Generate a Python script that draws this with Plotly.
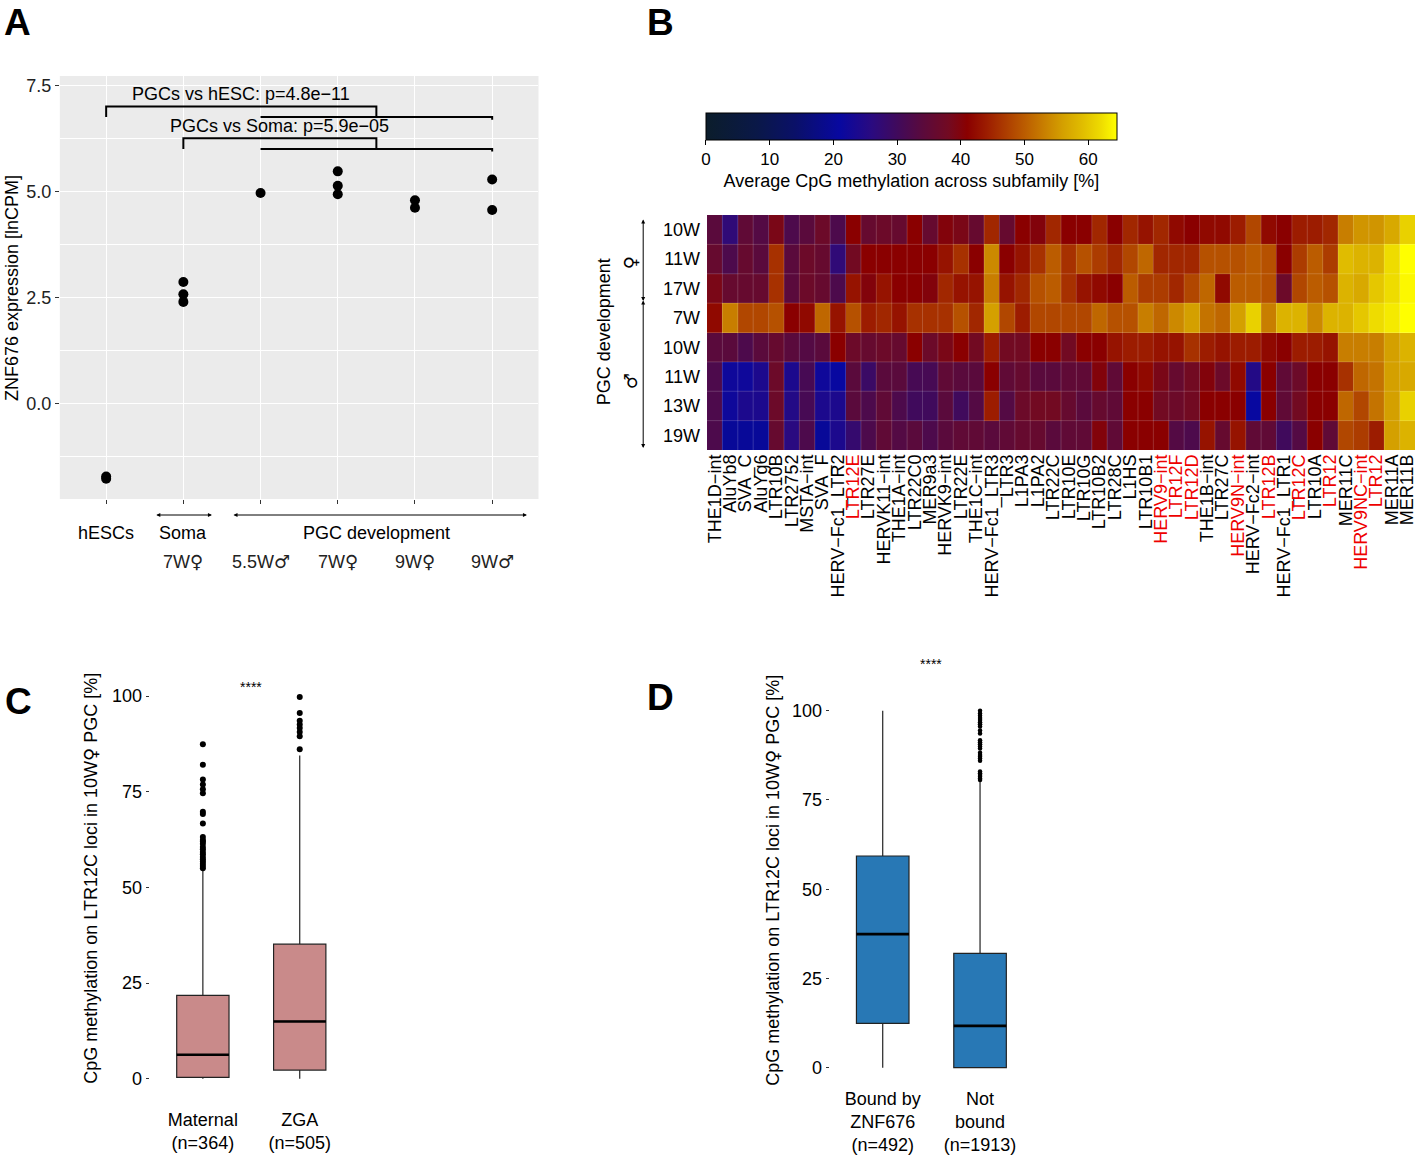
import plotly.graph_objects as go

W, H = 1424, 1155
FONT = "Liberation Sans, Arial, Helvetica, sans-serif"
SYM = '<span style="font-family:DejaVu Sans">{}</span>'


def px(x):
    return x / W


def py(y):
    return 1 - y / H


def sym(t):
    # the venus / mars glyphs look right in DejaVu Sans
    return t.replace("♀", SYM.format("♀")).replace("♂", SYM.format("♂"))


# ---------------- panel A: ZNF676 expression ----------------
hesc = [-1.73, -1.78]
soma_7wf = [2.86, 2.57, 2.39]
pgc_55wm = [4.96]
pgc_7wf = [5.47, 5.13, 4.93]
pgc_9wf = [4.79, 4.61]
pgc_9wm = [5.28, 4.56]
a_samples = [hesc, soma_7wf, pgc_55wm, pgc_7wf, pgc_9wf, pgc_9wm]
a_yticks = [0, 2.5, 5, 7.5]
a_row1 = ["hESCs", "Soma", "PGC development"]
a_row1_pos = [1, 2, 4.5]
a_row2 = ["7W♀", "5.5W♂", "7W♀", "9W♀", "9W♂"]
a_row2_pos = [2, 3, 4, 5, 6]
# (label, reference group, bracket height)
comparisons = [("PGCs vs hESC: p=4.8e−11", 1, 7.0),
               ("PGCs vs Soma: p=5.9e−05", 2, 6.25)]
pgc_span = [3, 6]

# ---------------- panel B: heatmap ----------------
subfamilies = ["THE1D−int", "AluYb8", "SVA_C", "AluYg6", "LTR10B", "LTR2752", "MSTA−int",
               "SVA_F", "HERV−Fc1_LTR2", "LTR12E", "LTR27E", "HERVK11−int", "THE1A−int",
               "LTR22C0", "MER9a3", "HERVK9−int", "LTR22E", "THE1C−int", "HERV−Fc1_LTR3",
               "LTR3", "L1PA3", "L1PA2", "LTR22C", "LTR10E", "LTR10G", "LTR10B2", "LTR28C",
               "L1HS", "LTR10B1", "HERV9−int", "LTR12F", "LTR12D", "THE1B−int", "LTR27C",
               "HERV9N−int", "HERV−Fc2−int", "LTR12B", "HERV−Fc1_LTR1", "LTR12C", "LTR10A",
               "LTR12", "MER11C", "HERV9NC−int", "LTR12", "MER11A", "MER11B"]
highlighted = ["LTR12E", "HERV9−int", "LTR12F", "LTR12D", "HERV9N−int", "LTR12B",
               "LTR12C", "LTR12", "HERV9NC−int"]
stages = ["10W", "11W", "17W", "7W", "10W", "11W", "13W", "19W"]

f_10w = [34, 27, 35, 33, 39, 32, 34, 37, 32, 41, 36, 37, 36, 41, 36, 40, 39, 36, 45, 36, 41, 40, 45,
         41, 41, 45, 41, 45, 43, 45, 42, 41, 42, 42, 44, 48, 42, 41, 44, 44, 45, 53, 55, 55, 57, 61]
f_11w = [36, 32, 36, 34, 46, 34, 37, 36, 27, 38, 41, 41, 41, 41, 41, 43, 46, 41, 54, 41, 43, 46, 50,
         46, 49, 47, 45, 48, 51, 45, 45, 45, 49, 49, 49, 50, 49, 41, 47, 50, 47, 59, 58, 58, 62, 65]
f_17w = [39, 36, 36, 36, 46, 34, 37, 36, 32, 43, 40, 43, 41, 41, 40, 45, 43, 43, 53, 43, 45, 49, 50,
         46, 43, 42, 41, 50, 47, 47, 45, 48, 51, 42, 50, 50, 49, 37, 48, 50, 49, 58, 57, 60, 62, 64]
m_7w = [42, 53, 48, 48, 49, 41, 42, 51, 43, 49, 44, 45, 43, 46, 46, 46, 49, 45, 56, 48, 44, 48, 48,
        48, 48, 51, 49, 49, 53, 51, 54, 56, 52, 51, 56, 61, 53, 58, 58, 54, 58, 58, 60, 62, 63, 65]
m_10w = [34, 34, 32, 34, 36, 34, 33, 34, 41, 37, 36, 37, 36, 41, 37, 39, 41, 38, 44, 38, 38, 41, 41,
         38, 41, 41, 43, 44, 44, 43, 43, 46, 44, 43, 44, 44, 42, 41, 44, 44, 43, 53, 53, 53, 56, 58]
m_11w = [32, 22, 22, 24, 37, 24, 31, 22, 21, 34, 29, 34, 34, 31, 31, 35, 34, 34, 41, 35, 36, 34, 34,
         35, 35, 40, 35, 41, 42, 39, 36, 38, 40, 37, 42, 25, 41, 35, 37, 41, 41, 46, 51, 52, 56, 57]
m_13w = [32, 22, 24, 24, 37, 25, 31, 24, 24, 34, 32, 35, 32, 30, 30, 34, 30, 33, 44, 33, 37, 38, 38,
         36, 34, 36, 35, 41, 41, 38, 37, 38, 41, 41, 41, 21, 41, 35, 38, 41, 41, 51, 48, 52, 56, 61]
m_19w = [32, 20, 20, 20, 36, 26, 32, 20, 24, 28, 32, 35, 33, 34, 32, 34, 35, 35, 34, 35, 36, 36, 34,
         35, 35, 40, 35, 41, 41, 41, 33, 32, 43, 36, 43, 35, 35, 30, 33, 41, 35, 48, 47, 44, 56, 58]
cbar_ticks = [0, 10, 20, 30, 40, 50, 60]
cbar_max = 64.5

# ---------------- panels C / D: boxplots ----------------
c_labels = ["Maternal<br>(n=364)", "ZGA<br>(n=505)"]
c_q1 = [0.4, 2.3]
c_median = [6.3, 15.0]
c_q3 = [21.8, 35.2]
c_low = [0.0, 0.0]
c_high = [54.5, 84.5]
c_out_maternal = [87.4, 82.1, 78.2, 76.9, 75.7, 74.6, 69.8, 69.2, 66.7, 63.2, 62.4, 62.0, 61.4,
                  60.6, 60.0, 59.3, 58.7, 58.0, 57.4, 56.8, 56.2, 55.6, 55.0]
c_out_zga = [86.1, 89.5, 90.6, 91.7, 92.6, 93.6, 95.6, 99.8]

d_labels = ["Bound by<br>ZNF676<br>(n=492)", "Not<br>bound<br>(n=1913)"]
d_q1 = [12.4, 0.0]
d_median = [37.4, 11.7]
d_q3 = [59.3, 32.0]
d_low = [0.0, 0.0]
d_high = [100.0, 80.4]
d_out_bound = []
d_out_not = [80.6, 81.0, 81.5, 82.0, 82.5, 83.0, 86.0, 86.6, 87.1, 87.6, 88.2, 89.4, 90.0, 90.6,
             91.2, 91.7, 93.6, 94.5, 95.6, 96.2, 96.8, 97.4, 98.0, 98.6, 99.2, 100.0]
box_ticks = [0, 25, 50, 75, 100]
box_title = "CpG methylation on LTR12C loci in 10W♀ PGC [%]"

fig = go.Figure()

# ---- A ----
for i, vals in enumerate(a_samples):
    fig.add_trace(go.Scatter(x=[i + 1] * len(vals), y=vals, mode="markers",
                             marker=dict(color="black", size=10),
                             xaxis="x", yaxis="y", showlegend=False))

# ---- B ----
z = [f_10w, f_11w, f_17w, m_7w, m_10w, m_11w, m_13w, m_19w]
stops = [(0, "#0b1d2b"), (8, "#0a1848"), (14, "#0a1068"), (21, "#0808a0"), (26, "#2a0a80"),
         (30, "#400a5c"), (34, "#5a0a3c"), (38, "#720a22"), (41, "#8a0000"), (44, "#9c1c00"),
         (47, "#ac3c00"), (50, "#bb5c00"), (53, "#c87e00"), (56, "#d4a000"), (59, "#e0bc00"),
         (62, "#eedc00"), (64.5, "#ffff00")]
colorscale = [[v / cbar_max, c] for v, c in stops]
fig.add_trace(go.Heatmap(
    z=z, x=list(range(len(subfamilies))), y=list(range(len(stages))),
    zmin=0, zmax=cbar_max, colorscale=colorscale, xaxis="x2", yaxis="y2",
    colorbar=dict(orientation="h", x=px(912), xanchor="center", len=412 / W, lenmode="fraction",
                  y=py(113), yanchor="top", thickness=27, thicknessmode="pixels",
                  xpad=0, ypad=0, outlinewidth=1, outlinecolor="black",
                  tickvals=cbar_ticks, ticks="outside", ticklen=5, tickcolor="black",
                  tickfont=dict(size=17, color="black", family=FONT),
                  title=dict(text="Average CpG methylation across subfamily [%]", side="bottom",
                             font=dict(size=18, color="black", family=FONT))),
    hoverinfo="z"))

# ---- C ----
fig.add_trace(go.Box(x=[1, 2], q1=c_q1, median=c_median, q3=c_q3, lowerfence=c_low,
                     upperfence=c_high, width=0.54, whiskerwidth=0, fillcolor="#c98a8a",
                     line=dict(color="#222222", width=1.2), boxpoints=False,
                     xaxis="x3", yaxis="y3", showlegend=False))
fig.add_trace(go.Scatter(x=[1] * len(c_out_maternal) + [2] * len(c_out_zga),
                         y=c_out_maternal + c_out_zga, mode="markers",
                         marker=dict(color="black", size=6), xaxis="x3", yaxis="y3",
                         showlegend=False))
mx, my = [], []
for i, m in enumerate(c_median):
    mx += [i + 1 - 0.27, i + 1 + 0.27, None]
    my += [m, m, None]
fig.add_trace(go.Scatter(x=mx, y=my, mode="lines", line=dict(color="black", width=2.6),
                         xaxis="x3", yaxis="y3", showlegend=False))

# ---- D ----
fig.add_trace(go.Box(x=[1, 2], q1=d_q1, median=d_median, q3=d_q3, lowerfence=d_low,
                     upperfence=d_high, width=0.54, whiskerwidth=0, fillcolor="#2878b5",
                     line=dict(color="#222222", width=1.2), boxpoints=False,
                     xaxis="x4", yaxis="y4", showlegend=False))
fig.add_trace(go.Scatter(x=[1] * len(d_out_bound) + [2] * len(d_out_not),
                         y=d_out_bound + d_out_not, mode="markers",
                         marker=dict(color="black", size=4.5), xaxis="x4", yaxis="y4",
                         showlegend=False))
mx, my = [], []
for i, m in enumerate(d_median):
    mx += [i + 1 - 0.27, i + 1 + 0.27, None]
    my += [m, m, None]
fig.add_trace(go.Scatter(x=mx, y=my, mode="lines", line=dict(color="black", width=2.6),
                         xaxis="x4", yaxis="y4", showlegend=False))

# ---------------- shapes ----------------
shapes = [dict(type="rect", xref="x domain", yref="y domain", x0=0, x1=1, y0=0, y1=1,
               fillcolor="#ebebeb", line=dict(width=0), layer="below")]
pgc_mid = sum(pgc_span) / 2
drop = 0.25
annotations = []
for label, ref, yb in comparisons:
    shapes.append(dict(type="path", xref="x", yref="y",
                       path=f"M {ref},{yb - drop} L {ref},{yb} L {pgc_mid},{yb} L {pgc_mid},{yb - drop}",
                       line=dict(color="black", width=2)))
    shapes.append(dict(type="path", xref="x", yref="y",
                       path=f"M {pgc_span[0]},{yb - drop} L {pgc_span[1]},{yb - drop} "
                            f"L {pgc_span[1]},{yb - drop - 0.06}",
                       line=dict(color="black", width=2)))
    annotations.append(dict(x=(ref + pgc_mid) / 2, y=yb + 0.29, xref="x", yref="y", text=label,
                            xanchor="center", yanchor="middle",
                            showarrow=False, font=dict(size=18, color="black")))

for i in range(len(subfamilies) - 1):
    shapes.append(dict(type="line", xref="x2", yref="y2", x0=i + 0.5, x1=i + 0.5, y0=-0.5,
                       y1=len(stages) - 0.5, line=dict(color="rgba(255,255,255,0.18)", width=1)))
for j in range(len(stages) - 1):
    shapes.append(dict(type="line", xref="x2", yref="y2", x0=-0.5, x1=len(subfamilies) - 0.5,
                       y0=j + 0.5, y1=j + 0.5, line=dict(color="rgba(255,255,255,0.18)", width=1)))


# ---------------- annotations ----------------
def note(x, y, text, size=18, angle=0, xref="paper", color="black"):
    return dict(x=x, y=y, xref=xref, yref="paper", text=text, textangle=angle,
                xanchor="center", yanchor="middle", showarrow=False,
                font=dict(size=size, color=color))


for t, xx in zip(a_row1, a_row1_pos):
    annotations.append(note(xx, py(533), t, xref="x"))
for t, xx in zip(a_row2, a_row2_pos):
    annotations.append(note(xx, py(561), sym(t), xref="x", color="#222222"))
# group arrows under panel A
for x0, x1 in [(1.63, 2.37), (2.63, 6.45)]:
    annotations.append(dict(x=x1, y=py(515), xref="x", yref="paper", ax=x0, ay=0,
                            axref="x", ayref="pixel", text="", showarrow=True,
                            arrowhead=2, arrowside="end+start", arrowsize=0.8, arrowwidth=1,
                            arrowcolor="black"))
# panel B side arrows
for y0, y1 in [(218, 301), (299, 448)]:
    annotations.append(dict(x=px(643), y=py(y1), xref="paper", yref="paper", ax=0, ay=-(y1 - y0),
                            text="", showarrow=True, arrowhead=2, arrowside="end+start",
                            arrowsize=0.8, arrowwidth=1, arrowcolor="black"))
annotations += [
    note(px(630), py(263), sym("♀"), angle=-90),
    note(px(630), py(381), sym("♂"), angle=-90),
    note(px(604), py(332), "PGC development", angle=-90),
    note(px(10), py(288), "ZNF676 expression [lnCPM]", angle=-90),
    note(px(88), py(878), sym(box_title), angle=-90),
    note(px(772), py(880), sym(box_title), angle=-90),
    note(1.5, py(687), "****", size=14, xref="x3"),
    note(1.5, py(664), "****", size=14, xref="x4"),
]
for letter, lx, ly in [("A", 16, 22), ("B", 660, 22), ("C", 17, 701), ("D", 660, 697)]:
    annotations.append(note(px(lx), py(ly), f"<b>{letter}</b>", size=37))

col_text = [f'<span style="color:#ee0000">{s}</span>' if s in highlighted else s
            for s in subfamilies]

tick_grey = "#333333"
fig.update_layout(
    width=W, height=H, autosize=False,
    margin=dict(l=0, r=0, t=0, b=0),
    paper_bgcolor="white", plot_bgcolor="white",
    font=dict(family=FONT, color="black"),
    showlegend=False,
    shapes=shapes, annotations=annotations,
    xaxis=dict(domain=[px(58), px(538)], range=[0.4, 6.6], tickvals=list(range(1, 7)),
               showticklabels=False, ticks="outside", ticklen=4, tickcolor=tick_grey,
               showgrid=True, gridcolor="white", gridwidth=1.2, zeroline=False, anchor="y"),
    yaxis=dict(domain=[py(499), py(76)], range=[-2.26, 7.72], tickvals=a_yticks,
               ticktext=[f"{v:.1f}" for v in a_yticks], ticks="outside", ticklen=4,
               tickcolor=tick_grey, tickfont=dict(size=18, color="#222222"),
               showgrid=True, gridcolor="white", gridwidth=1.2, zeroline=False,
               minor=dict(dtick=1.25, tick0=0, showgrid=True, gridcolor="white",
                          gridwidth=0.5, ticks=""),
               anchor="x"),
    xaxis2=dict(domain=[px(707), px(1417)], range=[-0.5, len(subfamilies) - 0.5],
                tickvals=list(range(len(subfamilies))), ticktext=col_text, tickangle=-90,
                ticks="", tickfont=dict(size=18, color="black"), showgrid=False,
                zeroline=False, anchor="y2"),
    yaxis2=dict(domain=[py(450), py(215)], range=[len(stages) - 0.5, -0.5],
                tickvals=list(range(len(stages))), ticktext=stages, ticks="",
                tickfont=dict(size=18, color="black"), ticklabelstandoff=6,
                showgrid=False, zeroline=False, anchor="x2"),
    xaxis3=dict(domain=[px(148), px(352)], range=[0.45, 2.55], tickvals=[1, 2],
                ticktext=c_labels, ticks="", tickfont=dict(size=18, color="black"),
                ticklabelstandoff=9,
                showgrid=False, zeroline=False, anchor="y3"),
    yaxis3=dict(domain=[py(1098), py(677)], range=[-5, 105], tickvals=box_ticks,
                ticks="outside", ticklen=3, tickcolor=tick_grey,
                tickfont=dict(size=18, color="black"), showgrid=False, zeroline=False,
                anchor="x3"),
    xaxis4=dict(domain=[px(830), px(1034)], range=[0.455, 2.545], tickvals=[1, 2],
                ticktext=d_labels, ticks="", tickfont=dict(size=18, color="black"),
                showgrid=False, zeroline=False, anchor="y4"),
    yaxis4=dict(domain=[py(1085.5), py(692.9)], range=[-5, 105], tickvals=box_ticks,
                ticks="outside", ticklen=3, tickcolor=tick_grey,
                tickfont=dict(size=18, color="black"), showgrid=False, zeroline=False,
                anchor="x4"),
)

fig.write_html("out.html", config={"displayModeBar": False},
               post_script="document.body.style.margin='0';document.body.style.overflow='hidden';")
